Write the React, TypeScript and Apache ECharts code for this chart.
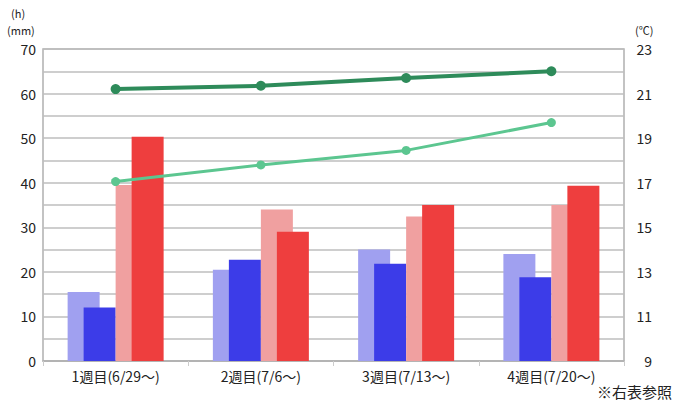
import React, { useEffect, useRef } from "react";
import * as echarts from "echarts";

const categories = ["1週目(6/29～)", "2週目(7/6～)", "3週目(7/13～)", "4週目(7/20～)"];
const sunshineNormal = [15.5, 20.5, 25, 24];
const sunshine = [12, 22.7, 21.8, 18.8];
const rainNormal = [39.5, 34, 32.4, 35];
const rain = [50.3, 29, 35, 39.3];
const tempA = [21.2, 21.35, 21.7, 22.0];
const tempB = [17.05, 17.8, 18.45, 19.7];
const placeholder = [0, 0, 0, 0];

const FONT = "'Noto Sans CJK JP', 'Noto Sans', sans-serif";

export default function App() {
  const ref = useRef<HTMLDivElement>(null);
  useEffect(() => {
    if (!ref.current) return;
    const chart = echarts.init(ref.current, undefined, { renderer: "svg" });
    const barCommon = {
      type: "bar",
      barWidth: 32,
      barGap: "-50%",
      xAxisIndex: 0,
      yAxisIndex: 0,
    };
    chart.setOption({
      animation: false,
      backgroundColor: "#ffffff",
      textStyle: { fontFamily: FONT },
      grid: {
        left: 43,
        right: 50,
        top: 49,
        bottom: 47,
        show: true,
        borderColor: "#b0b0b0",
        borderWidth: 1.5,
        backgroundColor: "transparent",
      },
      xAxis: {
        type: "category",
        data: categories,
        boundaryGap: true,
        axisLine: { show: true, lineStyle: { color: "#b0b0b0", width: 1.5 } },
        axisTick: { show: true, length: 5, lineStyle: { color: "#cccccc" } },
        axisLabel: { color: "#222", fontSize: 14, margin: 8, fontFamily: FONT },
      },
      yAxis: [
        {
          type: "value",
          min: 0,
          max: 70,
          interval: 5,
          axisLine: { show: false },
          axisTick: { show: false },
          axisLabel: {
            color: "#222",
            fontSize: 14,
            margin: 7,
            fontFamily: FONT,
            formatter: (v: number) => (v % 10 === 0 ? String(v) : ""),
          },
          splitLine: { show: true, lineStyle: { color: "#bebebe", width: 1.6 } },
        },
        {
          type: "value",
          min: 9,
          max: 23,
          interval: 1,
          position: "right",
          axisLine: { show: false },
          axisTick: { show: false },
          axisLabel: {
            color: "#222",
            fontSize: 14,
            margin: 28,
            align: "right",
            fontFamily: FONT,
            formatter: (v: number) => ((v - 9) % 2 === 0 ? String(v) : ""),
          },
          splitLine: { show: false },
        },
      ],
      series: [
        { ...barCommon, name: "日照平年", data: sunshineNormal, itemStyle: { color: "#a0a0f0" } },
        { ...barCommon, name: "日照", data: sunshine, itemStyle: { color: "#3c3ce8" } },
        { ...barCommon, name: "_", data: placeholder, itemStyle: { color: "transparent" } },
        { ...barCommon, name: "降水平年", data: rainNormal, itemStyle: { color: "#f0a0a0" } },
        { ...barCommon, name: "降水", data: rain, itemStyle: { color: "#ee3e3e" } },
        {
          type: "line",
          name: "気温A",
          yAxisIndex: 1,
          data: tempA,
          symbol: "circle",
          symbolSize: 10,
          lineStyle: { color: "#2e8b5a", width: 4 },
          itemStyle: { color: "#2e8b5a" },
          z: 5,
        },
        {
          type: "line",
          name: "気温B",
          yAxisIndex: 1,
          data: tempB,
          symbol: "circle",
          symbolSize: 9,
          lineStyle: { color: "#5cc690", width: 3 },
          itemStyle: { color: "#5cc690" },
          z: 5,
        },
      ],
      graphic: [
        { type: "text", left: 11, top: 7, style: { text: "(h)", fontSize: 11, fill: "#222", fontFamily: FONT } },
        { type: "text", left: 7, top: 24, style: { text: "(mm)", fontSize: 11, fill: "#222", fontFamily: FONT } },
        { type: "text", left: 635, top: 24, style: { text: "(℃)", fontSize: 11, fill: "#222", fontFamily: FONT } },
        { type: "text", right: 2, top: 384, style: { text: "※右表参照", fontSize: 15, fill: "#222", fontFamily: FONT } },
      ],
    });
    return () => chart.dispose();
  }, []);
  return (
    <div
      ref={ref}
      style={{ position: "fixed", left: 0, top: 0, width: 674, height: 408, background: "#fff" }}
    />
  );
}
